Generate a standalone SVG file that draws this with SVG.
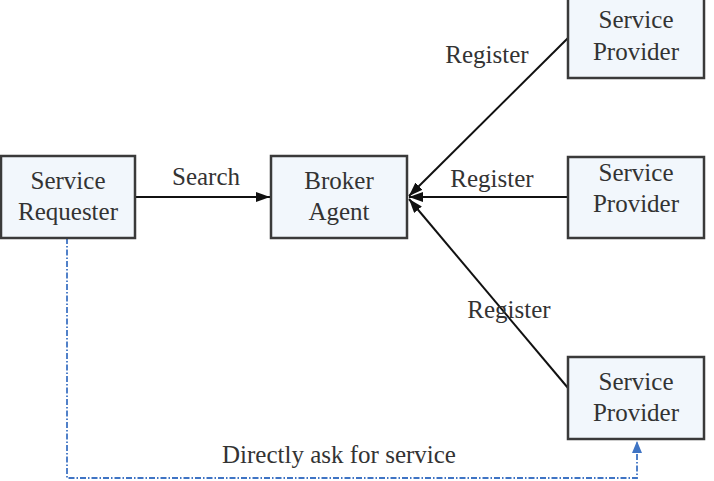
<svg xmlns="http://www.w3.org/2000/svg" width="714" height="481" viewBox="0 0 714 481">
<defs>
<marker id="ah" markerWidth="14" markerHeight="10" refX="14" refY="5" orient="auto" markerUnits="userSpaceOnUse">
<path d="M0,0 L14,5 L0,10 z" fill="#111"/>
</marker>
<marker id="ahb" markerWidth="12" markerHeight="10" refX="12" refY="5" orient="auto" markerUnits="userSpaceOnUse">
<path d="M0,0 L12,5 L0,10 z" fill="#3f74c4"/>
</marker>
</defs>
<style>
.box{fill:#f2f7fc;stroke:#3a3a3a;stroke-width:2.5}
.c{stroke:#111;stroke-width:2;fill:none}
.d{stroke:#3f74c4;stroke-width:1.8;fill:none;stroke-dasharray:6,2,1.5,2}
</style>
<rect width="714" height="481" fill="#fff"/>
<g font-family="Liberation Serif, Times New Roman, serif" font-size="25" fill="#333">
<g id="connectors">
<line class="c" x1="135" y1="197" x2="270" y2="197" marker-end="url(#ah)"/>
<line class="c" x1="568" y1="38" x2="409" y2="196" marker-end="url(#ah)"/>
<line class="c" x1="568" y1="197" x2="409" y2="197" marker-end="url(#ah)"/>
<line class="c" x1="568" y1="388" x2="409" y2="199" marker-end="url(#ah)"/>
<polyline class="d" points="67,238 67,478 637,478 637,441" marker-end="url(#ahb)"/>
<text x="206" y="185" text-anchor="middle">Search</text>
<text x="487" y="63" text-anchor="middle">Register</text>
<text x="492" y="187" text-anchor="middle">Register</text>
<text x="509" y="318" text-anchor="middle">Register</text>
<text x="339" y="463" text-anchor="middle">Directly ask for service</text>
</g>
<g id="requester" text-anchor="middle">
<rect class="box" x="1" y="156" width="134" height="82"/>
<text x="68" y="189">Service</text>
<text x="68" y="220">Requester</text>
</g>
<g id="broker" text-anchor="middle">
<rect class="box" x="271" y="156" width="136" height="82"/>
<text x="339" y="189">Broker</text>
<text x="339" y="220">Agent</text>
</g>
<g id="provider1" text-anchor="middle">
<rect class="box" x="568" y="-3" width="136" height="81"/>
<text x="636" y="28">Service</text>
<text x="636" y="60">Provider</text>
</g>
<g id="provider2" text-anchor="middle">
<rect class="box" x="568" y="157" width="136" height="81"/>
<text x="636" y="181">Service</text>
<text x="636" y="212">Provider</text>
</g>
<g id="provider3" text-anchor="middle">
<rect class="box" x="568" y="357" width="136" height="82"/>
<text x="636" y="390">Service</text>
<text x="636" y="421">Provider</text>
</g>
</g>
</svg>
